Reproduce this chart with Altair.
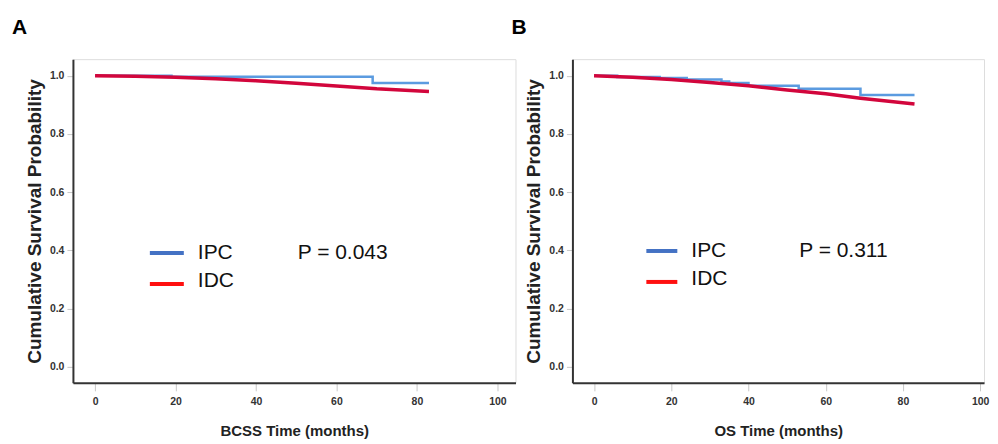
import altair as alt
import pandas as pd

# ---- data ----
bcss_ipc_t = [0, 19, 69, 83]
bcss_ipc_s = [1.0, 0.997, 0.975, 0.975]
bcss_idc_t = [0, 10, 20, 30, 40, 46, 50, 60, 70, 83]
bcss_idc_s = [1.0, 0.998, 0.995, 0.990, 0.983, 0.978, 0.974, 0.965, 0.955, 0.946]

os_ipc_t = [0, 6, 17, 24, 33, 35, 40, 53, 69, 83]
os_ipc_s = [1.0, 0.996, 0.992, 0.987, 0.980, 0.975, 0.966, 0.955, 0.934, 0.934]
os_idc_t = [0, 10, 20, 30, 40, 50, 60, 69, 83]
os_idc_s = [1.0, 0.995, 0.987, 0.977, 0.966, 0.951, 0.938, 0.923, 0.903]

x_ticks = [0, 20, 40, 60, 80, 100]
y_ticks = [0.0, 0.2, 0.4, 0.6, 0.8, 1.0]
groups = ["IPC", "IDC"]
p_values = ["P = 0.043", "P = 0.311"]
panel_labels = ["A", "B"]
x_titles = ["BCSS Time (months)", "OS Time (months)"]

NARROW = "Liberation Sans Narrow, Arial Narrow, Liberation Sans"
SANS = "Liberation Sans, Arial"


def panel(ipc_t, ipc_s, idc_t, idc_s, label, ptext, xtitle, xdom, width,
          leg):
    ipc = pd.DataFrame({"t": ipc_t, "s": ipc_s})
    idc = pd.DataFrame({"t": idc_t, "s": idc_s})
    xs = alt.Scale(domain=xdom, nice=False, zero=False)
    ys = alt.Scale(domain=[-0.055, 1.057], nice=False, zero=False)
    xax = alt.Axis(values=x_ticks, title=xtitle, grid=False, format="d",
                   domainColor="#333", domainWidth=2, tickColor="#c8c8c8",
                   tickSize=8, labelPadding=6, labelFont=NARROW,
                   labelFontSize=10.5, labelFontWeight="bold",
                   labelColor="#333", titleFont=NARROW, titleFontSize=15,
                   titleFontWeight="bold", titleColor="#222",
                   titlePadding=16)
    yax = alt.Axis(values=y_ticks, title="Cumulative Survival Probability",
                   grid=False, format=".1f", domainColor="#333",
                   domainWidth=2, tickColor="#c8c8c8", tickSize=6,
                   labelPadding=3, labelFont=NARROW, labelFontSize=10.5,
                   labelFontWeight="bold", labelColor="#333",
                   titleFont=SANS, titleFontSize=19, titleFontWeight="bold",
                   titleColor="#222", titlePadding=5)
    l_ipc = alt.Chart(ipc).mark_line(
        interpolate="step-after", color="#5B9BE0", strokeWidth=2.5
    ).encode(x=alt.X("t:Q", scale=xs, axis=xax),
             y=alt.Y("s:Q", scale=ys, axis=yax))
    l_idc = alt.Chart(idc).mark_line(color="#D2063C", strokeWidth=3.5).encode(
        x=alt.X("t:Q", scale=xs), y=alt.Y("s:Q", scale=ys))
    one = alt.Data(values=[{"k": 1}])
    lx0, lx1, tx, px, y1, y2 = leg
    r1 = alt.Chart(one).mark_rule(color="#4472C4", strokeWidth=4).encode(
        x=alt.value(lx0), x2=alt.value(lx1), y=alt.value(y1))
    r2 = alt.Chart(one).mark_rule(color="#FF1010", strokeWidth=4).encode(
        x=alt.value(lx0), x2=alt.value(lx1), y=alt.value(y2))
    t1 = alt.Chart(one).mark_text(text=groups[0], align="left",
                                  baseline="middle", fontSize=21, font=SANS,
                                  color="#111").encode(
        x=alt.value(tx), y=alt.value(y1))
    t2 = alt.Chart(one).mark_text(text=groups[1], align="left",
                                  baseline="middle", fontSize=21, font=SANS,
                                  color="#111").encode(
        x=alt.value(tx), y=alt.value(y2 - 3))
    tp = alt.Chart(one).mark_text(text=ptext, align="left",
                                  baseline="middle", fontSize=21, font=SANS,
                                  color="#111").encode(
        x=alt.value(px), y=alt.value(y1))
    tl = alt.Chart(one).mark_text(text=label, align="left",
                                  baseline="middle", fontSize=21, font=SANS,
                                  fontWeight="bold", color="#000").encode(
        x=alt.value(-61), y=alt.value(-31))
    return alt.layer(l_ipc, l_idc, r1, r2, t1, t2, tp, tl).properties(
        width=width, height=324)


pa = panel(bcss_ipc_t, bcss_ipc_s, bcss_idc_t, bcss_idc_s, panel_labels[0],
           p_values[0], x_titles[0], [-5.5, 104.5], 443,
           (77, 111, 125, 225, 194, 225))
pb = panel(os_ipc_t, os_ipc_s, os_idc_t, os_idc_s, panel_labels[1],
           p_values[1], x_titles[1], [-5.6, 101.0], 412,
           (74, 105, 119, 227, 192, 223))

chart = alt.hconcat(pa, pb, spacing=57, bounds="flush").properties(
    padding={"left": 3, "top": 8, "right": 0, "bottom": 0}
).configure_view(stroke=None).configure(background="white")

chart.save("out.html", embed_options={"renderer": "svg", "actions": False})
